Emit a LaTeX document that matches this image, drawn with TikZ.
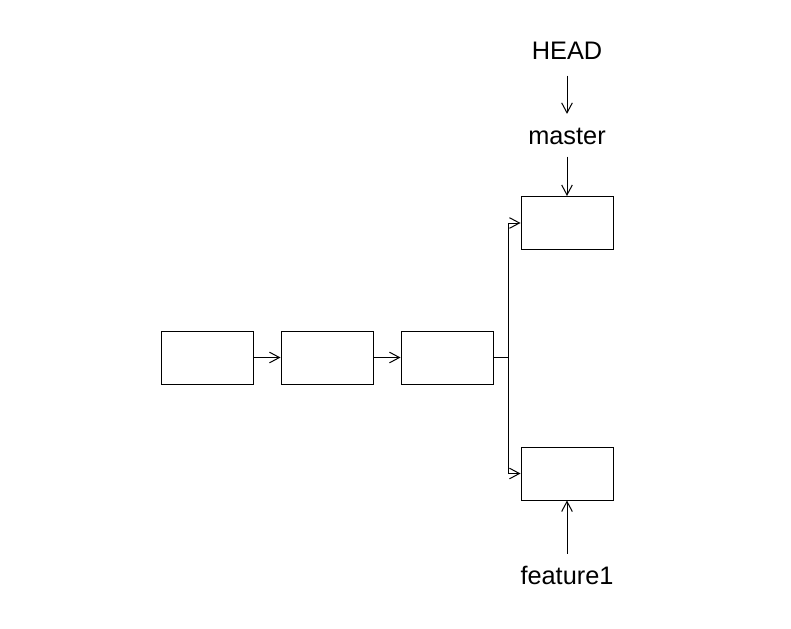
\documentclass[tikz,border=0pt]{standalone}
\usepackage{fontspec}
\setmainfont{Liberation Sans}
\usetikzlibrary{arrows.meta}

\begin{document}
\begin{tikzpicture}[x=0.75pt,y=-0.75pt,line width=0.75pt,
    commit/.style={draw,rectangle,minimum width=69pt,minimum height=39.75pt,inner sep=0pt},
    refname/.style={anchor=base,inner xsep=0pt,inner ysep=9pt,text height=13.2pt,text depth=0pt,font=\fontsize{19}{22}\selectfont},
    >={Straight Barb[length=7.5pt,width=8pt,line width=0.75pt]}]
  \useasboundingbox (0,0) rectangle (791,628);
  % commits
  \node[commit] (c1) at (207,357.5) {};
  \node[commit] (c2) at (327,357.5) {};
  \node[commit] (c3) at (447,357.5) {};
  \node[commit] (top) at (567,223) {};
  \node[commit] (bot) at (567,473.5) {};
  \coordinate (split) at (508,357.5);
  \draw[->] (c1) -- (c2);
  \draw[->] (c2) -- (c3);
  \draw (c3) -- (split);
  \draw[->] (split) |- (top);
  \draw[->] (split) |- (bot);
  % references
  \node[refname] (head) at (567,59) {HEAD};
  \node[refname] (master) at (567,144) {master};
  \node[refname] (feat) at (567,584) {feature1};
  \draw[->,shorten <=3pt] (head) -- (master);
  \draw[->] (master) -- (top);
  \draw[->] (feat) -- (bot);
\end{tikzpicture}
\end{document}
